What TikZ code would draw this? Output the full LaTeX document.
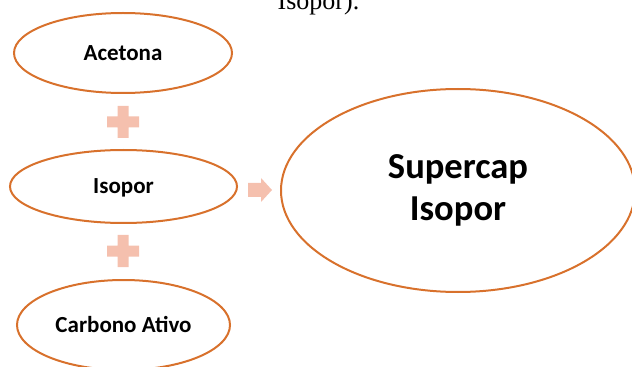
\documentclass[tikz,border=0pt]{standalone}
\usepackage{fontspec}
\setmainfont{Liberation Serif}
\newfontfamily\calibri{Carlito}
\usetikzlibrary{shapes.geometric}
\definecolor{bordeaux}{RGB}{216,113,44}
\definecolor{salmon}{RGB}{245,192,174}
\tikzset{
    item/.style={ellipse,draw=bordeaux,line width=1.5pt,inner sep=0pt,
        font=\calibri\bfseries\fontsize{17.25}{20}\selectfont,
        text height=11.1pt,text depth=0pt},
    result/.style={ellipse,draw=bordeaux,line width=1.5pt,inner sep=0pt,align=center,
        font=\calibri\bfseries\fontsize{27.4}{31.5}\selectfont},
    plus/.style={fill=salmon},
}
\begin{document}
\begin{tikzpicture}[x=0.75pt,y=-0.75pt]
    \useasboundingbox (0,0) rectangle (632,367);
    \node[anchor=base west,font=\fontsize{19.5}{22}\selectfont] (caption) at (273,10) {Isopor).};
    \node[item,minimum width=163.5pt,minimum height=60pt] (acetona) at (123,53) {Acetona};
    \node[item,minimum width=170.25pt,minimum height=54.75pt] (isopor) at (123.5,186.5) {Isopor};
    \node[item,minimum width=159.75pt,minimum height=67.5pt] (carbono) at (123.5,325) {Carbono Ativo};
    \node[result,minimum width=265.5pt,minimum height=152.25pt] (supercap) at (458,190.5) {Supercap\\Isopor};
    % plus signs
    \fill[plus] (107,116.5) rectangle (139,127.5) (117.5,106) rectangle (128.5,138);
    \fill[plus] (107,245.5) rectangle (139,256.5) (117.5,235) rectangle (128.5,267);
    % arrow
    \fill[plus] (248,183) -- (261,183) -- (261,178) -- (272,190) -- (261,202) -- (261,197) -- (248,197) -- cycle;
\end{tikzpicture}
\end{document}
